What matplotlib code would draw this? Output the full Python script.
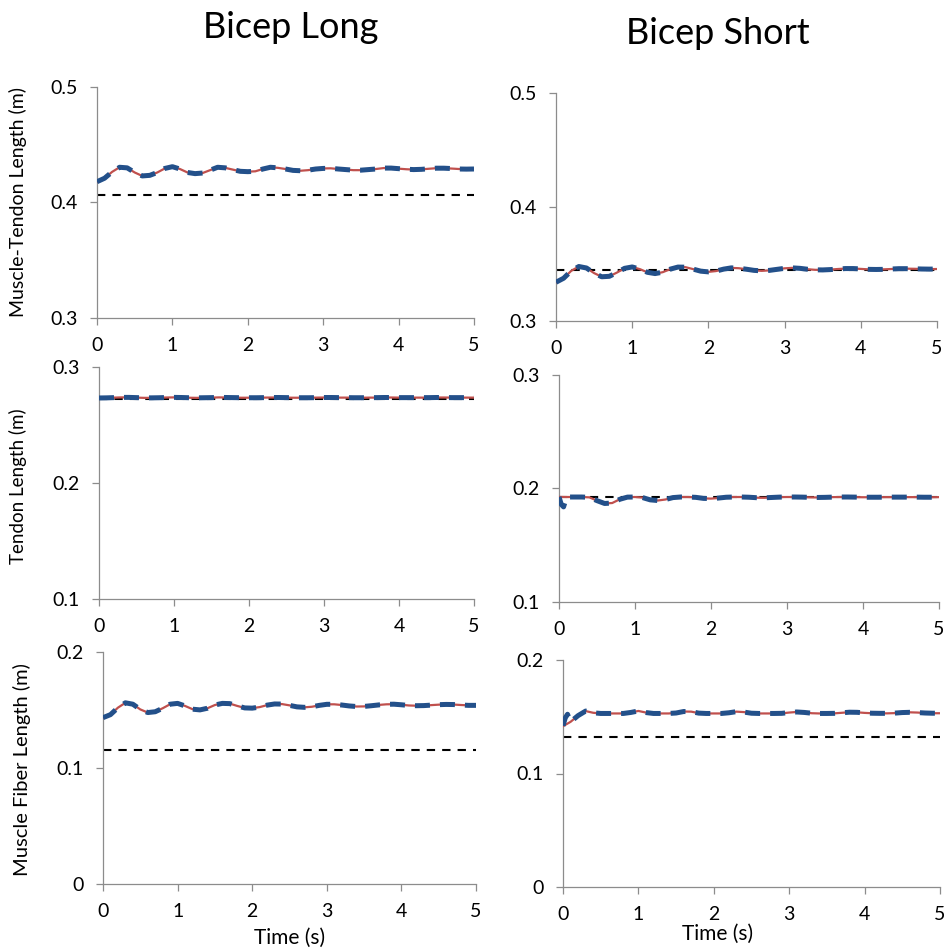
import matplotlib
matplotlib.use("Agg")
import matplotlib.pyplot as plt
from matplotlib.ticker import FuncFormatter

plt.rcParams['font.family'] = ['Lato', 'DejaVu Sans']

time_s = [
    0.0, 0.1, 0.2, 0.3, 0.4, 0.5, 0.6, 0.7, 0.8, 0.9,
    1.0, 1.1, 1.2, 1.3, 1.4, 1.5, 1.6, 1.7, 1.8, 1.9,
    2.0, 2.1, 2.2, 2.3, 2.4, 2.5, 2.6, 2.7, 2.8, 2.9,
    3.0, 3.1, 3.2, 3.3, 3.4, 3.5, 3.6, 3.7, 3.8, 3.9,
    4.0, 4.1, 4.2, 4.3, 4.4, 4.5, 4.6, 4.7, 4.8, 4.9, 5.0
]

# muscle-tendon length (m)
mt_long = [
    0.4180, 0.4210, 0.4265, 0.4305, 0.4300, 0.4260, 0.4230, 0.4235, 0.4260, 0.4295,
    0.4310, 0.4290, 0.4260, 0.4250, 0.4255, 0.4280, 0.4305, 0.4300, 0.4285, 0.4270,
    0.4267, 0.4270, 0.4290, 0.4305, 0.4300, 0.4290, 0.4278, 0.4275, 0.4280, 0.4290,
    0.4295, 0.4296, 0.4290, 0.4285, 0.4280, 0.4280, 0.4285, 0.4290, 0.4298, 0.4298,
    0.4293, 0.4288, 0.4285, 0.4287, 0.4292, 0.4297, 0.4297, 0.4294, 0.4290, 0.4289, 0.4290
]
mt_short = [
    0.3340, 0.3375, 0.3440, 0.3478, 0.3465, 0.3420, 0.3388, 0.3392, 0.3425, 0.3462,
    0.3474, 0.3455, 0.3427, 0.3416, 0.3428, 0.3455, 0.3473, 0.3472, 0.3455, 0.3437,
    0.3431, 0.3438, 0.3455, 0.3466, 0.3463, 0.3454, 0.3444, 0.3440, 0.3444, 0.3453,
    0.3462, 0.3466, 0.3462, 0.3454, 0.3449, 0.3448, 0.3451, 0.3456, 0.3460, 0.3460,
    0.3457, 0.3453, 0.3452, 0.3453, 0.3456, 0.3459, 0.3459, 0.3458, 0.3456, 0.3455, 0.3456
]

# tendon length (m)
tendon_long = [
    0.2733, 0.2734, 0.2736, 0.2738, 0.2738, 0.2736, 0.2734, 0.2734, 0.2735, 0.2737,
    0.2738, 0.2737, 0.2735, 0.2734, 0.2735, 0.2736, 0.2738, 0.2737, 0.2736, 0.2735,
    0.2735, 0.2735, 0.2736, 0.2737, 0.2737, 0.2736, 0.2735, 0.2735, 0.2735, 0.2736,
    0.2737, 0.2737, 0.2736, 0.2736, 0.2735, 0.2735, 0.2736, 0.2736, 0.2737, 0.2737,
    0.2736, 0.2736, 0.2736, 0.2736, 0.2736, 0.2737, 0.2737, 0.2736, 0.2736, 0.2736, 0.2736
]
tendon_short = [
    0.1926, 0.1925, 0.1925, 0.1925, 0.1922, 0.1893, 0.1868, 0.1872, 0.1905, 0.1924,
    0.1925, 0.1920, 0.1900, 0.1894, 0.1903, 0.1920, 0.1925, 0.1925, 0.1922, 0.1913,
    0.1911, 0.1916, 0.1923, 0.1925, 0.1925, 0.1923, 0.1919, 0.1918, 0.1921, 0.1924,
    0.1925, 0.1925, 0.1924, 0.1922, 0.1921, 0.1922, 0.1924, 0.1925, 0.1925, 0.1924,
    0.1923, 0.1923, 0.1923, 0.1924, 0.1924, 0.1924, 0.1924, 0.1924, 0.1923, 0.1923, 0.1924
]

# muscle fiber length (m)
fiber_long = [
    0.1434, 0.1460, 0.1520, 0.1562, 0.1550, 0.1505, 0.1478, 0.1485, 0.1515, 0.1550,
    0.1557, 0.1535, 0.1507, 0.1501, 0.1515, 0.1543, 0.1557, 0.1555, 0.1535, 0.1518,
    0.1516, 0.1525, 0.1542, 0.1552, 0.1551, 0.1540, 0.1527, 0.1523, 0.1528, 0.1540,
    0.1549, 0.1549, 0.1543, 0.1535, 0.1530, 0.1531, 0.1537, 0.1544, 0.1549, 0.1550,
    0.1545, 0.1539, 0.1537, 0.1538, 0.1542, 0.1546, 0.1548, 0.1547, 0.1543, 0.1540, 0.1540
]
fiber_short = [
    0.1417, 0.1455, 0.1510, 0.1550, 0.1535, 0.1529, 0.1529, 0.1529, 0.1529, 0.1538,
    0.1551, 0.1537, 0.1529, 0.1529, 0.1529, 0.1533, 0.1546, 0.1545, 0.1532, 0.1529,
    0.1529, 0.1529, 0.1535, 0.1545, 0.1541, 0.1531, 0.1529, 0.1529, 0.1529, 0.1530,
    0.1537, 0.1542, 0.1538, 0.1531, 0.1529, 0.1529, 0.1530, 0.1535, 0.1540, 0.1539,
    0.1534, 0.1531, 0.1530, 0.1530, 0.1532, 0.1537, 0.1539, 0.1537, 0.1533, 0.1531, 0.1531
]

# the blue (second) curve only differs at the very start in the short head
start_t = [0.0, 0.03, 0.06]
tendon_short_start = [0.1926, 0.1860, 0.1838]
fiber_short_start = [0.1420, 0.1490, 0.1522]

# reference levels (black dashed)
ref_mt = [0.4065, 0.3445]
ref_tendon = [0.2723, 0.1923]
ref_fiber = [0.1157, 0.1321]

y_ranges = [(0.3, 0.5), (0.1, 0.3), (0.0, 0.2)]
row_labels = ["Muscle-Tendon Length (m)", "Tendon Length (m)", "Muscle Fiber Length (m)"]

W, H = 945, 951
fig = plt.figure(figsize=(W / 100, H / 100), dpi=100)

# axes boxes in pixels: left, top, right, bottom
boxes = [
    [(97, 87, 474, 318), (556, 93, 937, 321)],
    [(99, 367, 474, 599), (559, 375, 939, 602)],
    [(103, 652, 476, 884), (563, 660, 940, 887)],
]

rows = [
    (mt_long, mt_short, None, None, ref_mt),
    (tendon_long, tendon_short, None, tendon_short_start, ref_tendon),
    (fiber_long, fiber_short, None, fiber_short_start, ref_fiber),
]

red = "#C0504D"
blue = "#23508A"
grey = "#8C8C8C"

for r in range(3):
    long_vals, short_vals, long_start, short_start, refs = rows[r]
    for c in range(2):
        l, t, rr, b = boxes[r][c]
        ax = fig.add_axes([l / W, 1 - b / H, (rr - l) / W, (b - t) / H])
        vals = long_vals if c == 0 else short_vals
        start = long_start if c == 0 else short_start
        ax.plot([0, 5], [refs[c], refs[c]], color="black", lw=1.5, dashes=(4, 3.4), zorder=2)
        ax.plot(time_s, vals, color=red, lw=1.6, zorder=3)
        if start is None:
            bt, bv = time_s, vals
        else:
            bt = start_t + time_s[1:]
            bv = start + vals[1:]
        ax.plot(bt, bv, color=blue, lw=3.6, dashes=(3, 2), zorder=4)

        ax.set_xlim(0, 5)
        ax.set_ylim(*y_ranges[r])
        ax.set_xticks([0, 1, 2, 3, 4, 5])
        ax.set_yticks([y_ranges[r][0], (y_ranges[r][0] + y_ranges[r][1]) / 2, y_ranges[r][1]])
        ax.yaxis.set_major_formatter(FuncFormatter(lambda v, p: f"{v:.1f}".replace("0.0", "0")))
        for s in ["top", "right"]:
            ax.spines[s].set_visible(False)
        for s in ["left", "bottom"]:
            ax.spines[s].set_color(grey)
            ax.spines[s].set_linewidth(0.9)
        ax.tick_params(axis="both", direction="out", length=5, width=0.9, color=grey,
                       labelsize=14, labelcolor="black")
        ax.tick_params(axis="x", pad=9)
        ax.tick_params(axis="y", pad=9)
        ax.patch.set_alpha(0)
        for lab in ax.get_xticklabels() + ax.get_yticklabels():
            lab.set_clip_on(False)

# column titles
fig.text(291 / W, 1 - 27 / H, "Bicep Long", fontsize=26, ha="center", va="center")
fig.text(718 / W, 1 - 34 / H, "Bicep Short", fontsize=26, ha="center", va="center")

# row labels
fig.text(18 / W, 1 - 202 / H, row_labels[0], fontsize=14, rotation=90, ha="center", va="center")
fig.text(18 / W, 1 - 486 / H, row_labels[1], fontsize=13.5, rotation=90, ha="center", va="center")
fig.text(22 / W, 1 - 770 / H, row_labels[2], fontsize=14.5, rotation=90, ha="center", va="center")

fig.text(290 / W, 1 - 938 / H, "Time (s)", fontsize=15, ha="center", va="center")
fig.text(718 / W, 1 - 934 / H, "Time (s)", fontsize=15, ha="center", va="center")

fig.savefig("out.png", dpi=100)
